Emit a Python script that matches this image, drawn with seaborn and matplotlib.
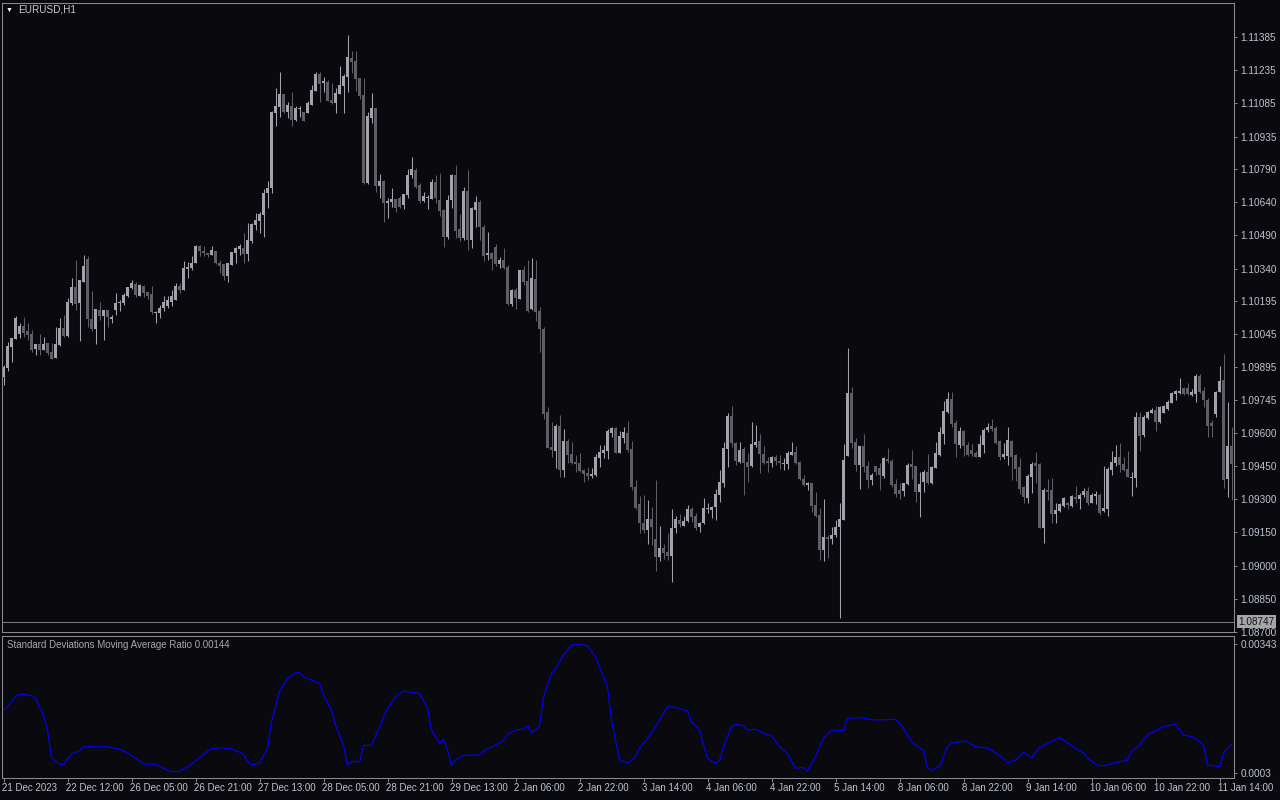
import numpy as np
import pandas as pd
import matplotlib
matplotlib.use("Agg")
import matplotlib.pyplot as plt
import seaborn as sns

# EURUSD H1 candles
opens = [
    1.09850, 1.09891, 1.09986, 1.10022, 1.10045, 1.10081, 1.10058, 1.10045, 1.09977, 1.10000,
    1.09973, 1.10004, 1.09964, 1.09937, 1.09995, 1.10072, 1.10036, 1.10184, 1.10257, 1.10184,
    1.10279, 1.10383, 1.10112, 1.10067, 1.10153, 1.10126, 1.10153, 1.10112, 1.10153, 1.10184,
    1.10184, 1.10216, 1.10252, 1.10270, 1.10216, 1.10261, 1.10234, 1.10225, 1.10139, 1.10139,
    1.10162, 1.10171, 1.10189, 1.10198, 1.10261, 1.10243, 1.10338, 1.10343, 1.10365, 1.10442,
    1.10419, 1.10410, 1.10401, 1.10419, 1.10365, 1.10361, 1.10307, 1.10356, 1.10410, 1.10428,
    1.10433, 1.10406, 1.10464, 1.10536, 1.10554, 1.10581, 1.10681, 1.10704, 1.11042, 1.11069,
    1.11128, 1.11046, 1.11074, 1.11010, 1.11060, 1.11046, 1.11042, 1.11078, 1.11141, 1.11218,
    1.11177, 1.11182, 1.11101, 1.11087, 1.11128, 1.11164, 1.11204, 1.11290, 1.11276, 1.11200,
    1.11123, 1.10727, 1.11019, 1.11065, 1.10713, 1.10736, 1.10636, 1.10640, 1.10654, 1.10658,
    1.10627, 1.10672, 1.10762, 1.10785, 1.10717, 1.10645, 1.10658, 1.10654, 1.10731, 1.10649,
    1.10604, 1.10482, 1.10649, 1.10762, 1.10518, 1.10478, 1.10690, 1.10469, 1.10604, 1.10640,
    1.10527, 1.10401, 1.10410, 1.10437, 1.10361, 1.10379, 1.10347, 1.10180, 1.10243, 1.10202,
    1.10334, 1.10284, 1.10157, 1.10293, 1.10148, 1.10067, 1.09693, 1.09535, 1.09517, 1.09630,
    1.09431, 1.09562, 1.09503, 1.09467, 1.09463, 1.09431, 1.09418, 1.09404, 1.09409, 1.09485,
    1.09508, 1.09517, 1.09598, 1.09621, 1.09508, 1.09575, 1.09598, 1.09526, 1.09355, 1.09278,
    1.09192, 1.09160, 1.09210, 1.09120, 1.09039, 1.09079, 1.09061, 1.09043, 1.09169, 1.09205,
    1.09178, 1.09201, 1.09255, 1.09223, 1.09174, 1.09192, 1.09255, 1.09250, 1.09264, 1.09318,
    1.09373, 1.09526, 1.09675, 1.09553, 1.09467, 1.09526, 1.09467, 1.09449, 1.09544, 1.09562,
    1.09503, 1.09472, 1.09463, 1.09490, 1.09472, 1.09458, 1.09458, 1.09499, 1.09512, 1.09467,
    1.09391, 1.09364, 1.09373, 1.09273, 1.09228, 1.09070, 1.09129, 1.09120, 1.09138, 1.09174,
    1.09205, 1.09494, 1.09779, 1.09557, 1.09454, 1.09539, 1.09449, 1.09386, 1.09449, 1.09440,
    1.09404, 1.09481, 1.09472, 1.09368, 1.09341, 1.09336, 1.09368, 1.09458, 1.09449, 1.09332,
    1.09377, 1.09422, 1.09373, 1.09440, 1.09499, 1.09593, 1.09693, 1.09751, 1.09643, 1.09544,
    1.09607, 1.09544, 1.09521, 1.09508, 1.09490, 1.09544, 1.09612, 1.09630, 1.09621, 1.09562,
    1.09490, 1.09494, 1.09562, 1.09499, 1.09445, 1.09355, 1.09305, 1.09400, 1.09463, 1.09458,
    1.09169, 1.09341, 1.09341, 1.09232, 1.09246, 1.09268, 1.09282, 1.09268, 1.09309, 1.09300,
    1.09318, 1.09336, 1.09282, 1.09314, 1.09318, 1.09246, 1.09255, 1.09431, 1.09463, 1.09490,
    1.09458, 1.09436, 1.09395, 1.09395, 1.09670, 1.09589, 1.09666, 1.09688, 1.09702, 1.09648,
    1.09688, 1.09706, 1.09733, 1.09774, 1.09779, 1.09801, 1.09801, 1.09770, 1.09774, 1.09855,
    1.09788, 1.09747, 1.09643, 1.09684, 1.09783, 1.09837, 1.09391, 1.09539,
]
highs = [
    1.09905, 1.10009, 1.10027, 1.10126, 1.10095, 1.10121, 1.10095, 1.10063, 1.10000, 1.10045,
    1.10031, 1.10004, 1.10004, 1.10076, 1.10117, 1.10130, 1.10207, 1.10298, 1.10379, 1.10288,
    1.10401, 1.10397, 1.10238, 1.10157, 1.10189, 1.10153, 1.10153, 1.10130, 1.10229, 1.10198,
    1.10229, 1.10257, 1.10288, 1.10279, 1.10270, 1.10266, 1.10234, 1.10261, 1.10148, 1.10176,
    1.10216, 1.10216, 1.10243, 1.10275, 1.10275, 1.10374, 1.10370, 1.10397, 1.10446, 1.10446,
    1.10442, 1.10410, 1.10442, 1.10419, 1.10379, 1.10361, 1.10365, 1.10415, 1.10437, 1.10451,
    1.10500, 1.10545, 1.10545, 1.10590, 1.10595, 1.10699, 1.10736, 1.11051, 1.11155, 1.11227,
    1.11128, 1.11092, 1.11137, 1.11074, 1.11074, 1.11046, 1.11096, 1.11168, 1.11227, 1.11227,
    1.11204, 1.11191, 1.11177, 1.11155, 1.11254, 1.11218, 1.11394, 1.11322, 1.11322, 1.11200,
    1.11200, 1.11046, 1.11132, 1.11065, 1.10767, 1.10740, 1.10658, 1.10704, 1.10654, 1.10667,
    1.10676, 1.10789, 1.10843, 1.10794, 1.10727, 1.10686, 1.10672, 1.10744, 1.10762, 1.10771,
    1.10609, 1.10672, 1.10767, 1.10807, 1.10586, 1.10708, 1.10785, 1.10618, 1.10667, 1.10649,
    1.10536, 1.10505, 1.10415, 1.10451, 1.10392, 1.10433, 1.10356, 1.10248, 1.10252, 1.10334,
    1.10352, 1.10379, 1.10388, 1.10379, 1.10166, 1.10076, 1.09715, 1.09648, 1.09639, 1.09680,
    1.09616, 1.09571, 1.09557, 1.09499, 1.09508, 1.09436, 1.09445, 1.09440, 1.09503, 1.09544,
    1.09544, 1.09616, 1.09625, 1.09625, 1.09607, 1.09625, 1.09652, 1.09562, 1.09386, 1.09314,
    1.09318, 1.09296, 1.09264, 1.09386, 1.09178, 1.09097, 1.09147, 1.09255, 1.09223, 1.09232,
    1.09223, 1.09273, 1.09264, 1.09237, 1.09196, 1.09305, 1.09282, 1.09268, 1.09345, 1.09431,
    1.09557, 1.09688, 1.09720, 1.09557, 1.09557, 1.09535, 1.09508, 1.09648, 1.09634, 1.09593,
    1.09539, 1.09490, 1.09494, 1.09499, 1.09499, 1.09485, 1.09517, 1.09557, 1.09539, 1.09472,
    1.09409, 1.09377, 1.09373, 1.09332, 1.09259, 1.09300, 1.09138, 1.09174, 1.09205, 1.09282,
    1.09548, 1.09982, 1.09806, 1.09575, 1.09539, 1.09593, 1.09472, 1.09418, 1.09449, 1.09463,
    1.09490, 1.09530, 1.09481, 1.09391, 1.09373, 1.09373, 1.09463, 1.09521, 1.09449, 1.09422,
    1.09431, 1.09503, 1.09449, 1.09557, 1.09625, 1.09742, 1.09783, 1.09783, 1.09657, 1.09625,
    1.09612, 1.09557, 1.09548, 1.09517, 1.09589, 1.09621, 1.09643, 1.09661, 1.09630, 1.09566,
    1.09553, 1.09625, 1.09566, 1.09503, 1.09485, 1.09359, 1.09413, 1.09467, 1.09512, 1.09463,
    1.09350, 1.09391, 1.09395, 1.09282, 1.09282, 1.09309, 1.09287, 1.09318, 1.09359, 1.09327,
    1.09350, 1.09355, 1.09327, 1.09336, 1.09327, 1.09449, 1.09445, 1.09517, 1.09544, 1.09553,
    1.09490, 1.09517, 1.09422, 1.09693, 1.09693, 1.09680, 1.09697, 1.09711, 1.09720, 1.09720,
    1.09724, 1.09747, 1.09783, 1.09792, 1.09846, 1.09806, 1.09824, 1.09797, 1.09864, 1.09864,
    1.09806, 1.09756, 1.09657, 1.09788, 1.09900, 1.09955, 1.09738, 1.09625,
]
lows = [
    1.09814, 1.09878, 1.09918, 1.10022, 1.10027, 1.10031, 1.10018, 1.09964, 1.09950, 1.09950,
    1.09973, 1.09950, 1.09932, 1.09937, 1.09991, 1.10031, 1.10031, 1.10176, 1.10153, 1.10013,
    1.10279, 1.10076, 1.10058, 1.10000, 1.10108, 1.10018, 1.10076, 1.10095, 1.10130, 1.10148,
    1.10176, 1.10211, 1.10248, 1.10211, 1.10216, 1.10211, 1.10202, 1.10135, 1.10095, 1.10117,
    1.10148, 1.10162, 1.10171, 1.10198, 1.10229, 1.10243, 1.10297, 1.10334, 1.10365, 1.10397,
    1.10397, 1.10392, 1.10401, 1.10361, 1.10320, 1.10288, 1.10279, 1.10356, 1.10365, 1.10401,
    1.10365, 1.10374, 1.10455, 1.10514, 1.10500, 1.10482, 1.10613, 1.10681, 1.10983, 1.11024,
    1.11042, 1.11019, 1.10983, 1.11006, 1.11024, 1.11006, 1.11042, 1.11078, 1.11141, 1.11092,
    1.11137, 1.11096, 1.11083, 1.11042, 1.11128, 1.11042, 1.11137, 1.11222, 1.11141, 1.11105,
    1.10722, 1.10722, 1.10997, 1.10686, 1.10658, 1.10550, 1.10568, 1.10618, 1.10595, 1.10613,
    1.10609, 1.10658, 1.10749, 1.10704, 1.10636, 1.10640, 1.10609, 1.10654, 1.10636, 1.10577,
    1.10437, 1.10473, 1.10613, 1.10478, 1.10464, 1.10469, 1.10424, 1.10433, 1.10527, 1.10469,
    1.10374, 1.10379, 1.10334, 1.10352, 1.10343, 1.10338, 1.10176, 1.10171, 1.10157, 1.10202,
    1.10266, 1.10144, 1.10153, 1.10103, 1.09964, 1.09661, 1.09530, 1.09490, 1.09440, 1.09400,
    1.09400, 1.09463, 1.09458, 1.09422, 1.09422, 1.09377, 1.09386, 1.09395, 1.09404, 1.09445,
    1.09485, 1.09481, 1.09580, 1.09508, 1.09508, 1.09553, 1.09512, 1.09341, 1.09255, 1.09147,
    1.09147, 1.09097, 1.09093, 1.08975, 1.09021, 1.09030, 1.09025, 1.08925, 1.09147, 1.09174,
    1.09178, 1.09196, 1.09196, 1.09160, 1.09151, 1.09187, 1.09237, 1.09214, 1.09205, 1.09287,
    1.09355, 1.09445, 1.09535, 1.09454, 1.09463, 1.09318, 1.09377, 1.09445, 1.09535, 1.09418,
    1.09458, 1.09422, 1.09445, 1.09454, 1.09436, 1.09431, 1.09436, 1.09499, 1.09458, 1.09386,
    1.09359, 1.09341, 1.09241, 1.09219, 1.09025, 1.09021, 1.09034, 1.09097, 1.09129, 1.08763,
    1.09205, 1.09494, 1.09530, 1.09427, 1.09345, 1.09422, 1.09350, 1.09364, 1.09409, 1.09341,
    1.09395, 1.09463, 1.09355, 1.09309, 1.09300, 1.09314, 1.09364, 1.09391, 1.09287, 1.09219,
    1.09332, 1.09368, 1.09368, 1.09440, 1.09494, 1.09548, 1.09688, 1.09625, 1.09490, 1.09530,
    1.09494, 1.09494, 1.09494, 1.09490, 1.09490, 1.09508, 1.09603, 1.09607, 1.09548, 1.09476,
    1.09481, 1.09454, 1.09386, 1.09382, 1.09323, 1.09282, 1.09282, 1.09327, 1.09373, 1.09169,
    1.09101, 1.09296, 1.09192, 1.09192, 1.09241, 1.09264, 1.09255, 1.09264, 1.09282, 1.09255,
    1.09309, 1.09273, 1.09282, 1.09278, 1.09228, 1.09241, 1.09223, 1.09409, 1.09449, 1.09422,
    1.09427, 1.09400, 1.09314, 1.09355, 1.09517, 1.09580, 1.09661, 1.09688, 1.09607, 1.09643,
    1.09688, 1.09702, 1.09733, 1.09747, 1.09774, 1.09770, 1.09770, 1.09765, 1.09738, 1.09779,
    1.09715, 1.09580, 1.09580, 1.09670, 1.09783, 1.09350, 1.09309, 1.09296,
]
closes = [
    1.09896, 1.09991, 1.10027, 1.10117, 1.10081, 1.10049, 1.10040, 1.09973, 1.10000, 1.09973,
    1.10000, 1.09959, 1.09932, 1.10000, 1.10072, 1.10036, 1.10189, 1.10257, 1.10180, 1.10288,
    1.10352, 1.10112, 1.10067, 1.10157, 1.10126, 1.10153, 1.10121, 1.10121, 1.10184, 1.10189,
    1.10220, 1.10257, 1.10275, 1.10220, 1.10266, 1.10229, 1.10216, 1.10144, 1.10144, 1.10162,
    1.10189, 1.10198, 1.10216, 1.10261, 1.10243, 1.10343, 1.10347, 1.10365, 1.10442, 1.10419,
    1.10410, 1.10401, 1.10424, 1.10365, 1.10352, 1.10307, 1.10365, 1.10415, 1.10433, 1.10442,
    1.10406, 1.10469, 1.10541, 1.10559, 1.10586, 1.10681, 1.10704, 1.11046, 1.11074, 1.11128,
    1.11046, 1.11078, 1.11010, 1.11065, 1.11065, 1.11006, 1.11087, 1.11146, 1.11218, 1.11173,
    1.11186, 1.11096, 1.11087, 1.11132, 1.11168, 1.11209, 1.11294, 1.11272, 1.11195, 1.11119,
    1.10727, 1.11028, 1.11065, 1.10713, 1.10736, 1.10636, 1.10645, 1.10654, 1.10613, 1.10618,
    1.10676, 1.10762, 1.10789, 1.10709, 1.10645, 1.10667, 1.10663, 1.10731, 1.10658, 1.10600,
    1.10482, 1.10649, 1.10762, 1.10509, 1.10478, 1.10690, 1.10469, 1.10613, 1.10640, 1.10527,
    1.10397, 1.10410, 1.10383, 1.10361, 1.10379, 1.10343, 1.10180, 1.10243, 1.10207, 1.10334,
    1.10279, 1.10148, 1.10297, 1.10144, 1.10067, 1.09684, 1.09530, 1.09521, 1.09630, 1.09431,
    1.09562, 1.09499, 1.09463, 1.09458, 1.09427, 1.09413, 1.09404, 1.09413, 1.09490, 1.09512,
    1.09521, 1.09607, 1.09621, 1.09508, 1.09585, 1.09603, 1.09521, 1.09355, 1.09259, 1.09192,
    1.09160, 1.09210, 1.09174, 1.09039, 1.09079, 1.09057, 1.09043, 1.09169, 1.09210, 1.09187,
    1.09201, 1.09255, 1.09219, 1.09169, 1.09192, 1.09259, 1.09259, 1.09264, 1.09323, 1.09377,
    1.09530, 1.09675, 1.09553, 1.09472, 1.09521, 1.09463, 1.09445, 1.09548, 1.09557, 1.09503,
    1.09463, 1.09463, 1.09490, 1.09472, 1.09463, 1.09463, 1.09508, 1.09512, 1.09463, 1.09391,
    1.09364, 1.09373, 1.09268, 1.09223, 1.09070, 1.09129, 1.09120, 1.09138, 1.09174, 1.09210,
    1.09476, 1.09779, 1.09553, 1.09454, 1.09539, 1.09445, 1.09386, 1.09409, 1.09422, 1.09409,
    1.09485, 1.09472, 1.09364, 1.09323, 1.09323, 1.09373, 1.09454, 1.09445, 1.09332, 1.09368,
    1.09422, 1.09373, 1.09445, 1.09508, 1.09603, 1.09697, 1.09751, 1.09639, 1.09548, 1.09607,
    1.09539, 1.09499, 1.09503, 1.09490, 1.09548, 1.09612, 1.09625, 1.09616, 1.09553, 1.09490,
    1.09503, 1.09566, 1.09490, 1.09436, 1.09345, 1.09309, 1.09404, 1.09458, 1.09449, 1.09169,
    1.09341, 1.09332, 1.09232, 1.09250, 1.09278, 1.09305, 1.09273, 1.09314, 1.09300, 1.09318,
    1.09336, 1.09282, 1.09318, 1.09323, 1.09237, 1.09259, 1.09436, 1.09467, 1.09490, 1.09454,
    1.09431, 1.09400, 1.09400, 1.09670, 1.09584, 1.09670, 1.09693, 1.09702, 1.09648, 1.09715,
    1.09720, 1.09738, 1.09779, 1.09788, 1.09788, 1.09774, 1.09774, 1.09783, 1.09855, 1.09783,
    1.09747, 1.09630, 1.09630, 1.09783, 1.09833, 1.09386, 1.09539, 1.09458,
]

# indicator readings (bar index, value)
ind_bar = [
    0, 1, 3, 4, 7, 8, 10, 11, 12, 14,
    15, 17, 19, 20, 23, 26, 29, 31, 33, 35,
    38, 40, 42, 44, 47, 49, 52, 54, 57, 60,
    61, 62, 64, 66, 67, 69, 71, 73, 74, 75,
    79, 80, 82, 83, 85, 86, 87, 89, 90, 92,
    94, 96, 98, 100, 101, 104, 106, 107, 109, 110,
    111, 112, 113, 115, 119, 121, 122, 125, 126, 128,
    130, 131, 132, 134, 135, 137, 138, 140, 142, 144,
    146, 148, 151, 152, 154, 156, 158, 159, 162, 164,
    166, 168, 171, 172, 174, 176, 178, 179, 180, 182,
    183, 185, 186, 188, 190, 192, 194, 196, 198, 200,
    201, 203, 205, 207, 210, 211, 214, 218, 223, 225,
    227, 230, 231, 232, 234, 236, 237, 240, 241, 243,
    246, 249, 251, 253, 255, 257, 259, 261, 264, 265,
    268, 270, 271, 273, 274, 276, 278, 281, 282, 284,
    286, 288, 290, 293, 295, 297, 298, 300, 301, 304,
    305, 306, 307,
]
ind_val = [
    0.001825, 0.001905, 0.002148, 0.002214, 0.002182, 0.002109, 0.001703, 0.001338, 0.000675, 0.000504,
    0.000504, 0.000755, 0.000828, 0.000932, 0.000932, 0.000932, 0.000869, 0.000786, 0.000650, 0.000512,
    0.000504, 0.000407, 0.000324, 0.000334, 0.000504, 0.000675, 0.000884, 0.000908, 0.000884, 0.000755,
    0.000585, 0.000487, 0.000529, 0.000893, 0.001540, 0.002270, 0.002596, 0.002732, 0.002732, 0.002635,
    0.002474, 0.002190, 0.001825, 0.001460, 0.000974, 0.000487, 0.000568, 0.000568, 0.000966, 0.000966,
    0.001419, 0.001866, 0.002148, 0.002287, 0.002270, 0.002231, 0.001866, 0.001338, 0.001015, 0.001112,
    0.000852, 0.000487, 0.000609, 0.000723, 0.000730, 0.000893, 0.000918, 0.001078, 0.001241, 0.001338,
    0.001363, 0.001443, 0.001273, 0.001419, 0.002148, 0.002717, 0.002815, 0.003162, 0.003406, 0.003430,
    0.003381, 0.003121, 0.002392, 0.001582, 0.000609, 0.000529, 0.000689, 0.000893, 0.001258, 0.001582,
    0.001905, 0.001890, 0.001808, 0.001540, 0.001338, 0.000650, 0.000529, 0.000592, 0.000932, 0.001419,
    0.001477, 0.001443, 0.001338, 0.001355, 0.001258, 0.001193, 0.000932, 0.000755, 0.000407, 0.000431,
    0.000341, 0.000689, 0.001137, 0.001338, 0.001321, 0.001623, 0.001638, 0.001582, 0.001599, 0.001380,
    0.001054, 0.000835, 0.000407, 0.000366, 0.000446, 0.000932, 0.001015, 0.001071, 0.001054, 0.000932,
    0.000893, 0.000730, 0.000543, 0.000609, 0.000796, 0.000665, 0.000908, 0.001015, 0.001151, 0.001095,
    0.000893, 0.000786, 0.000650, 0.000512, 0.000470, 0.000487, 0.000543, 0.000609, 0.000811, 0.000974,
    0.001217, 0.001321, 0.001419, 0.001484, 0.001217, 0.001176, 0.001137, 0.000974, 0.000487, 0.000446,
    0.000772, 0.000893, 0.000991,
]

time_labels = ["21 Dec 2023", "22 Dec 12:00", "26 Dec 05:00", "26 Dec 21:00", "27 Dec 13:00",
               "28 Dec 05:00", "28 Dec 21:00", "29 Dec 13:00", "2 Jan 06:00", "2 Jan 22:00",
               "3 Jan 14:00", "4 Jan 06:00", "4 Jan 22:00", "5 Jan 14:00", "8 Jan 06:00",
               "8 Jan 22:00", "9 Jan 14:00", "10 Jan 06:00", "10 Jan 22:00", "11 Jan 14:00"]
price_ticks = [1.11385, 1.11235, 1.11085, 1.10935, 1.10790, 1.10640, 1.10490, 1.10340, 1.10195,
               1.10045, 1.09895, 1.09745, 1.09600, 1.09450, 1.09300, 1.09150, 1.09000, 1.08850, 1.08700]
ind_ticks = [0.00343, 0.0003]
last_price = 1.08747

bg = "#0a0a0e"
bull = "#a2a2aa"
bear = "#5e5e64"
frame = "#8a8a8a"
label_c = "#bcc4d0"

sns.set_theme(style="dark", rc={"axes.facecolor": bg, "figure.facecolor": bg})
plt.rcParams["font.family"] = ["Liberation Sans", "DejaVu Sans"]

W, H = 1280, 800
fig = plt.figure(figsize=(12.8, 8), dpi=100)
ax = fig.add_axes([2 / W, (H - 632) / H, 1232 / W, 629 / H])
ax2 = fig.add_axes([2 / W, (H - 778) / H, 1232 / W, 142 / H])

df = pd.DataFrame({"open": opens, "high": highs, "low": lows, "close": closes})
df["bar"] = np.arange(len(df))
up = df["close"] >= df["open"]
cols = np.where(up, bull, bear)
top = df[["high", "open", "close"]].max(axis=1)
bot = df[["low", "open", "close"]].min(axis=1)
ax.vlines(df["bar"], bot, top, colors=cols, linewidth=0.75)
body_bot = df[["open", "close"]].min(axis=1)
body_h = (df["close"] - df["open"]).abs().clip(lower=0.000045)
ax.bar(df["bar"], body_h, bottom=body_bot, width=0.75, color=cols, linewidth=0)
ax.axhline(last_price, color="#7a7a7a", linewidth=0.75)

ind = pd.DataFrame({"bar": ind_bar, "val": ind_val})
sns.lineplot(data=ind, x="bar", y="val", ax=ax2, color="#0000ff", linewidth=0.85)

for a in (ax, ax2):
    a.set_xlim(-0.375, 307.625)
    a.set_xlabel("")
    a.set_ylabel("")
    a.grid(False)
    for s in a.spines.values():
        s.set_visible(True)
        s.set_color(frame)
        s.set_linewidth(0.75)
    a.yaxis.tick_right()
    a.tick_params(axis="y", which="both", right=True, left=False, direction="out",
                  length=2.2, width=0.7, color=frame, labelcolor=label_c,
                  labelsize=7.2, pad=2.5)

ax.set_ylim(1.08700, 1.11538)
ax.set_yticks(price_ticks)
ax.set_yticklabels([f"{p:.5f}" for p in price_ticks])
ax.set_xticks([])

ax2.set_ylim(0.000171, 0.003625)
ax2.set_yticks(ind_ticks)
ax2.set_yticklabels(["0.00343", "0.0003"])

tick_bars = np.arange(0, 16 * len(time_labels), 16)
ax2.set_xticks(tick_bars)
ax2.tick_params(axis="x", bottom=True, direction="out", length=3, width=0.7,
                color=frame, labelbottom=False)
for b, lbl in zip(tick_bars, time_labels):
    ax2.annotate(lbl, xy=(b, 0), xycoords=("data", "axes fraction"), xytext=(-1, -5),
                 textcoords="offset pixels", ha="left", va="top", fontsize=7,
                 color=label_c, annotation_clip=False)

ax.annotate(f"{last_price:.5f}", xy=(1, last_price), xycoords=("axes fraction", "data"),
            xytext=(4, 0), textcoords="offset pixels", ha="left", va="center",
            fontsize=7.2, color="#141414", annotation_clip=False,
            bbox=dict(boxstyle="square,pad=0.15", fc="#a6a6a6", ec="none"))

fig.text(6 / W, 1 - 10 / H, "\u25bc", fontsize=5, color="white", va="center", ha="left")
fig.text(18 / W, 1 - 10 / H, "EURUSD,H1", fontsize=7.2, color="#c8c8c8", va="center", ha="left")
fig.text(7 / W, 1 - 645 / H, "Standard Deviations Moving Average Ratio 0.00144",
         fontsize=7, color="#a8a8a8", va="center", ha="left")

fig.savefig("out.png", dpi=100, facecolor=bg)
